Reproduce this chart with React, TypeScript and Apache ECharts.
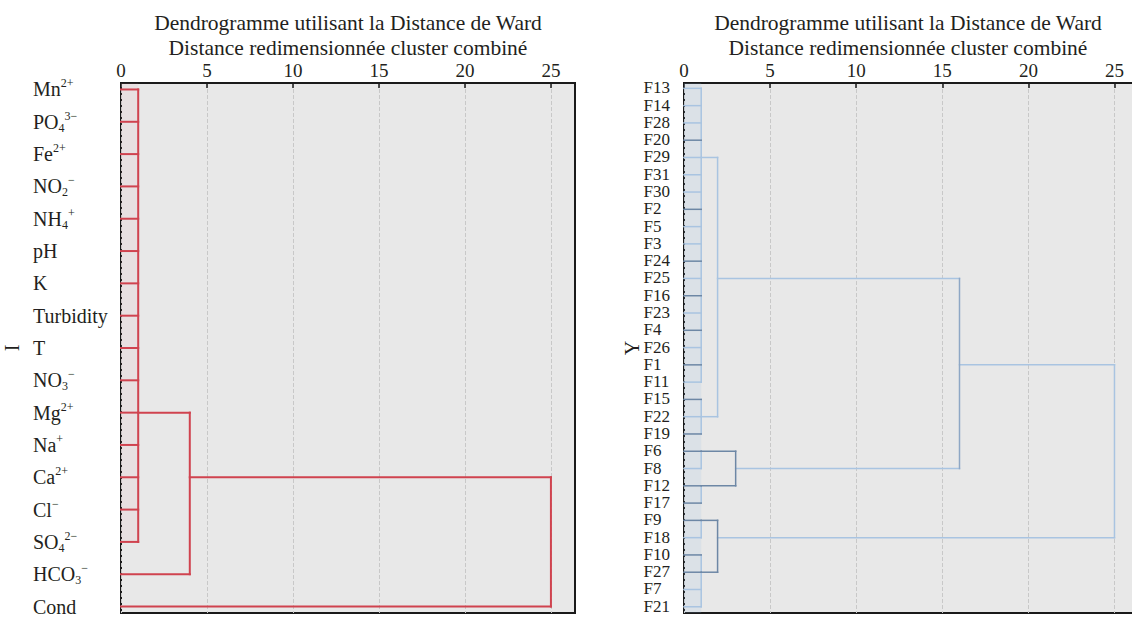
import React, { useEffect, useRef } from "react";
import * as echarts from "echarts";

// ---------- Data ----------
const titleLine1 = "Dendrogramme utilisant la Distance de Ward";
const titleLine2 = "Distance redimensionnée cluster combiné";
const xTicks = [0, 5, 10, 15, 20, 25];

// Left dendrogram: parameters (base text, subscript, superscript)
const paramBase = ["Mn", "PO", "Fe", "NO", "NH", "pH", "K", "Turbidity", "T", "NO", "Mg", "Na", "Ca", "Cl", "SO", "HCO", "Cond"];
const paramSub = ["", "4", "", "2", "4", "", "", "", "", "3", "", "", "", "", "4", "3", ""];
const paramSup = ["2+", "3−", "2+", "−", "+", "", "", "", "", "−", "2+", "+", "2+", "−", "2−", "−", ""];
const leftAxisName = "I";

// clusters: ids 0..n-1 are leaves (rows), n+k is cluster k
const leftClusterKids = [
  [0, 1, 2, 3, 4, 5, 6, 7, 8, 9, 10, 11, 12, 13, 14],
  [17, 15],
  [18, 16],
];
const leftClusterHeights = [1.0, 4.0, 25.0];
const leftClusterRows = [10, 12, 14];

// Right dendrogram: sites
const siteNames = ["F13", "F14", "F28", "F20", "F29", "F31", "F30", "F2", "F5", "F3", "F24", "F25", "F16", "F23", "F4", "F26", "F1", "F11", "F15", "F22", "F19", "F6", "F8", "F12", "F17", "F9", "F18", "F10", "F27", "F7", "F21"];
const rightAxisName = "Y";
const rightClusterKids = [
  [0, 1, 2, 3, 4, 5, 6, 7, 8, 9, 10, 11, 12, 13, 14, 15, 16, 17], // 31
  [18, 19, 20], // 32
  [31, 32], // 33
  [21, 22], // 34
  [23, 24], // 35
  [34, 35], // 36
  [33, 36], // 37
  [25, 26], // 38
  [27, 28, 29, 30], // 39
  [38, 39], // 40
  [37, 40], // 41
];
const rightClusterHeights = [1.0, 1.0, 1.95, 1.0, 1.0, 3.0, 16.0, 1.0, 1.0, 1.95, 25.0];
const rightClusterRows = [4, 19, 11, 21, 23, 22, 16, 25, 28, 26, 21];

// ---------- Styles ----------
const FONT = "'Liberation Serif', 'Times New Roman', serif";
const TEXT = "#231f20";
const RED = "#d0434f";
const BLUE_LIGHT = "#a9c4e1";
const BLUE_MED = "#8ea7c5";
const BLUE_DARK = "#6d87a5";
const darkLeafRows = [3, 7, 10, 12, 14, 16, 18, 20, 21, 23, 24, 25, 27, 28];
const darkNodes = [36, 40];
const medNodes = [37];

type Seg = { value: number[]; node: number; kid: number };

function buildSegments(n: number, kids: number[][], heights: number[], rows: number[]): Seg[] {
  const h = (id: number) => (id < n ? 0 : heights[id - n]);
  const r = (id: number) => (id < n ? id : rows[id - n]);
  const segs: Seg[] = [];
  kids.forEach((ks, c) => {
    const H = heights[c];
    const rs = ks.map(r);
    ks.forEach((k) => segs.push({ value: [h(k), r(k), H, r(k)], node: n + c, kid: k }));
    segs.push({ value: [H, Math.min(...rs), H, Math.max(...rs)], node: n + c, kid: -1 });
  });
  return segs;
}

function makeRender(color: string, width: number) {
  return (_params: any, api: any) => {
    const a = api.coord([api.value(0), api.value(1)]);
    const b = api.coord([api.value(2), api.value(3)]);
    return {
      type: "line",
      shape: { x1: a[0], y1: a[1], x2: b[0], y2: b[1] },
      style: { stroke: color, lineWidth: width, lineCap: "square" },
    };
  };
}

function paramLabel(v: number) {
  const i = Math.round(v);
  if (i < 0 || i >= paramBase.length) return "";
  let s = `{b|${paramBase[i]}}`;
  if (paramSub[i]) s += `{sub|${paramSub[i]}}`;
  if (paramSup[i]) s += `{sup|${paramSup[i]}}`;
  return s;
}

export default function App() {
  const ref = useRef<HTMLDivElement>(null);
  useEffect(() => {
    if (!ref.current) return;
    const chart = echarts.init(ref.current, null, { renderer: "svg" });

    const nL = paramBase.length;
    const nR = siteNames.length;
    const leftSegs = buildSegments(nL, leftClusterKids, leftClusterHeights, leftClusterRows);
    const rightSegs = buildSegments(nR, rightClusterKids, rightClusterHeights, rightClusterRows);

    const classify = (s: Seg) => {
      if (darkNodes.includes(s.node)) return "dark";
      if (s.kid >= 0 && s.kid < nR && darkLeafRows.includes(s.kid)) return "dark";
      if (s.kid === -1 && medNodes.includes(s.node)) return "med";
      return "light";
    };
    const rLight = rightSegs.filter((s) => classify(s) === "light").map((s) => s.value);
    const rMed = rightSegs.filter((s) => classify(s) === "med").map((s) => s.value);
    const rDark = rightSegs.filter((s) => classify(s) === "dark").map((s) => s.value);

    const leftYMin = -0.2, leftYMax = 16.2;
    const rightYMin = -0.31, rightYMax = 30.36;

    const titleStyle = { fontSize: 21.5, lineHeight: 25, fontWeight: "normal", fontFamily: FONT, color: TEXT };
    const xAxisCommon = (gridIndex: number, max: number) => ({
      gridIndex,
      type: "value",
      position: "top",
      min: 0,
      max,
      interval: 5,
      axisLine: { show: true, onZero: false, lineStyle: { color: "#1a1a1a", width: 2 } },
      axisTick: { show: true, inside: true, length: 5, customValues: xTicks, lineStyle: { color: "#1a1a1a", width: 1.5 } },
      axisLabel: {
        customValues: xTicks,
        fontSize: 19,
        fontFamily: FONT,
        color: TEXT,
        margin: 3,
        alignMinLabel: "center",
        alignMaxLabel: "center",
        showMinLabel: true,
      },
      splitLine: { show: true, lineStyle: { type: "dashed", color: "#c8c8c8", width: 1 } },
    });

    const option: any = {
      animation: false,
      backgroundColor: "#ffffff",
      title: [
        { text: titleLine1 + "\n" + titleLine2, left: 348, top: 10, textAlign: "center", padding: 0, textStyle: titleStyle },
        { text: titleLine1 + "\n" + titleLine2, left: 908, top: 10, textAlign: "center", padding: 0, textStyle: titleStyle },
      ],
      grid: [
        { left: 121, top: 83, width: 454, height: 530, outerBoundsMode: "none", containLabel: false, show: true, backgroundColor: "#e8e8e8", borderColor: "#1a1a1a", borderWidth: 2 },
        { left: 684, top: 83, width: 452, height: 530, outerBoundsMode: "none", containLabel: false, show: true, backgroundColor: "#e8e8e8", borderColor: "#1a1a1a", borderWidth: 2 },
      ],
      xAxis: [xAxisCommon(0, 26.4), xAxisCommon(1, 26.25)],
      yAxis: [
        {
          gridIndex: 0,
          type: "value",
          inverse: true,
          min: leftYMin,
          max: leftYMax,
          axisLine: { show: false },
          axisTick: { show: false },
          splitLine: { show: false },
          axisLabel: {
            customValues: paramBase.map((_, i) => i),
            formatter: (v: number) => paramLabel(v),
            align: "left",
            margin: 88,
            showMinLabel: true,
            showMaxLabel: true,
            rich: {
              b: { fontSize: 20, fontFamily: FONT, color: TEXT, lineHeight: 24, verticalAlign: "middle" },
              sub: { fontSize: 12, fontFamily: FONT, color: TEXT, lineHeight: 12, verticalAlign: "bottom" },
              sup: { fontSize: 12, fontFamily: FONT, color: TEXT, lineHeight: 12, verticalAlign: "top" },
            },
          },
          name: leftAxisName,
          nameLocation: "middle",
          nameRotate: 90,
          nameGap: 99,
          nameMoveOverlap: false,
          nameTextStyle: { fontSize: 20, fontFamily: FONT, color: TEXT },
        },
        {
          gridIndex: 1,
          type: "value",
          inverse: true,
          min: rightYMin,
          max: rightYMax,
          axisLine: { show: false },
          axisTick: { show: false },
          splitLine: { show: false },
          axisLabel: { show: false },
          name: rightAxisName,
          nameLocation: "middle",
          nameRotate: 90,
          nameGap: 42,
          nameMoveOverlap: false,
          nameTextStyle: { fontSize: 20, fontFamily: FONT, color: TEXT },
        },
      ],
      series: [
        {
          type: "custom",
          xAxisIndex: 0,
          yAxisIndex: 0,
          silent: true,
          clip: false,
          encode: { x: [0, 2], y: [1, 3] },
          renderItem: makeRender(RED, 2),
          data: leftSegs.map((s) => s.value),
          markArea: {
            silent: true,
            itemStyle: { color: "rgba(230,140,150,0.09)" },
            data: [[{ coord: [0, leftYMin] }, { coord: [leftClusterHeights[0], leftClusterKids[0].length - 1] }]],
          },
        },
        {
          type: "custom",
          xAxisIndex: 1,
          yAxisIndex: 1,
          silent: true,
          clip: false,
          encode: { x: [0, 2], y: [1, 3] },
          renderItem: makeRender(BLUE_LIGHT, 1.5),
          data: rLight,
          markArea: {
            silent: true,
            itemStyle: { color: "rgba(150,190,230,0.15)" },
            data: [[{ coord: [0, rightYMin] }, { coord: [1, rightYMax] }]],
          },
        },
        {
          type: "custom",
          xAxisIndex: 1,
          yAxisIndex: 1,
          silent: true,
          clip: false,
          encode: { x: [0, 2], y: [1, 3] },
          renderItem: makeRender(BLUE_MED, 1.5),
          data: rMed,
        },
        {
          type: "custom",
          xAxisIndex: 1,
          yAxisIndex: 1,
          silent: true,
          clip: false,
          encode: { x: [0, 2], y: [1, 3] },
          renderItem: makeRender(BLUE_DARK, 1.5),
          data: rDark,
        },
        {
          // site labels (left-aligned column next to the axis)
          type: "scatter",
          xAxisIndex: 1,
          yAxisIndex: 1,
          silent: true,
          symbol: "circle",
          symbolSize: 1,
          clip: false,
          itemStyle: { color: "rgba(0,0,0,0)" },
          data: siteNames.map((_, i) => [0, i]),
          label: {
            show: true,
            position: [-40, 0],
            align: "left",
            verticalAlign: "middle",
            formatter: (p: any) => siteNames[p.dataIndex],
            fontSize: 17,
            lineHeight: 17,
            fontFamily: FONT,
            color: TEXT,
            opacity: 1,
          },
          labelLayout: { hideOverlap: false },
        },
      ],
    };

    chart.setOption(option);
    return () => chart.dispose();
  }, []);

  return <div ref={ref} style={{ position: "fixed", left: 0, top: 0, width: 1132, height: 617 }} />;
}
